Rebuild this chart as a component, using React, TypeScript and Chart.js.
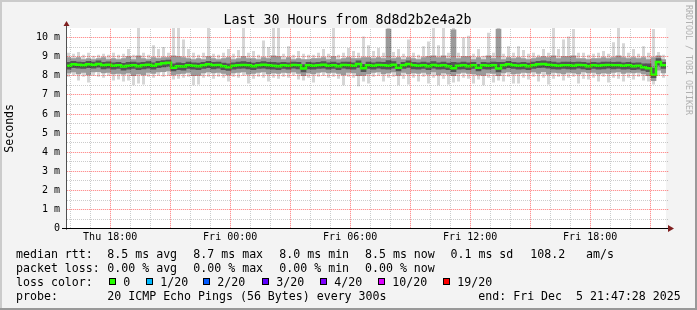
import React, { useEffect, useRef } from "react";
import { Chart, registerables } from "chart.js";

Chart.register(...registerables);

// Time axis: hours since the start of the graph (Thu 15:47:28), 30 hours, 15-minute columns
const START_HOUR = 15 + 47 / 60 + 28 / 3600;
const SPAN_HOURS = 30;
const STEP_HOURS = 0.25;
const Y_MAX = 10.5;

// RTT distribution per column (milliseconds)
const maxRtt = [
  9.20, 9.15, 9.25, 9.10, 9.20, 9.05, 9.10, 9.15, 9.10, 9.20,
  9.10, 9.15, 9.40, 9.10, 10.50, 9.20, 9.10, 9.60, 9.40, 9.50,
  9.20, 10.50, 10.50, 9.90, 9.40, 9.20, 9.10, 9.20, 10.50, 9.15,
  9.10, 9.20, 9.40, 9.15, 9.35, 10.50, 9.20, 9.30, 9.10, 9.85,
  9.50, 10.50, 10.50, 9.15, 9.55, 9.10, 9.30, 9.15, 9.10, 9.10,
  9.20, 9.40, 9.15, 10.50, 9.10, 9.20, 9.45, 9.30, 9.20, 10.05,
  9.60, 9.30, 9.45, 9.20, 10.50, 9.25, 9.40, 9.15, 9.90, 9.20,
  9.10, 9.55, 9.80, 10.50, 9.60, 10.50, 9.20, 10.50, 9.20, 10.00,
  10.10, 9.15, 9.40, 9.05, 10.25, 9.20, 10.50, 9.15, 9.55, 9.20,
  9.55, 9.35, 9.15, 9.20, 9.10, 9.40, 9.20, 10.50, 9.40, 9.90,
  10.05, 10.45, 9.20, 9.20, 9.10, 9.15, 9.20, 9.30, 9.15, 9.75,
  10.50, 9.70, 9.20, 9.40, 9.15, 9.55, 9.20, 10.45, 9.25, 9.10,
];

const p90Rtt = [
  8.95, 8.90, 8.95, 8.85, 8.90, 8.85, 8.90, 8.95, 8.85, 8.90,
  8.85, 8.90, 9.00, 8.85, 9.05, 8.90, 8.85, 8.95, 8.90, 8.95,
  8.95, 9.05, 9.00, 8.95, 8.90, 8.85, 8.90, 8.85, 9.00, 8.90,
  8.85, 8.90, 8.95, 8.85, 8.90, 9.00, 8.90, 8.90, 8.85, 8.95,
  8.90, 9.05, 9.00, 8.85, 8.95, 8.85, 8.90, 8.85, 8.85, 8.90,
  8.90, 8.95, 8.85, 9.00, 8.85, 8.90, 8.95, 8.90, 8.90, 8.95,
  8.95, 8.90, 8.95, 8.90, 10.45, 8.90, 8.95, 8.85, 8.95, 8.90,
  8.85, 8.95, 9.00, 9.05, 8.95, 9.05, 8.90, 10.40, 8.90, 9.00,
  9.00, 8.85, 8.95, 8.85, 9.05, 8.90, 10.45, 8.85, 8.95, 8.90,
  8.95, 8.90, 8.85, 8.90, 8.95, 9.00, 8.95, 9.05, 8.90, 9.00,
  9.00, 9.05, 8.90, 8.90, 8.85, 8.90, 8.90, 8.95, 8.90, 8.95,
  9.05, 8.95, 8.90, 8.95, 8.90, 8.95, 8.85, 8.95, 9.05, 8.85,
];

const q3Rtt = [
  8.70, 8.75, 8.72, 8.70, 8.75, 8.72, 8.78, 8.70, 8.73, 8.68,
  8.70, 8.65, 8.70, 8.72, 8.68, 8.70, 8.74, 8.68, 8.75, 8.80,
  8.82, 8.62, 8.68, 8.65, 8.72, 8.68, 8.66, 8.70, 8.75, 8.70,
  8.72, 8.66, 8.62, 8.68, 8.72, 8.74, 8.70, 8.66, 8.70, 8.74,
  8.70, 8.70, 8.68, 8.70, 8.68, 8.72, 8.70, 8.58, 8.70, 8.68,
  8.70, 8.74, 8.68, 8.72, 8.66, 8.72, 8.72, 8.68, 8.78, 8.60,
  8.72, 8.68, 8.72, 8.70, 8.80, 8.74, 8.60, 8.70, 8.78, 8.70,
  8.68, 8.72, 8.68, 8.74, 8.68, 8.72, 8.66, 8.70, 8.68, 8.72,
  8.68, 8.70, 8.60, 8.70, 8.68, 8.72, 8.70, 8.70, 8.76, 8.70,
  8.68, 8.70, 8.66, 8.72, 8.76, 8.78, 8.74, 8.72, 8.68, 8.72,
  8.72, 8.70, 8.72, 8.70, 8.66, 8.70, 8.68, 8.72, 8.72, 8.70,
  8.72, 8.68, 8.70, 8.66, 8.68, 8.62, 8.62, 8.40, 8.90, 8.70,
];

const medianRtt = [
  8.52, 8.60, 8.58, 8.55, 8.60, 8.57, 8.62, 8.55, 8.58, 8.52,
  8.55, 8.48, 8.52, 8.55, 8.50, 8.55, 8.58, 8.52, 8.60, 8.65,
  8.68, 8.42, 8.50, 8.48, 8.55, 8.52, 8.50, 8.55, 8.60, 8.55,
  8.57, 8.50, 8.45, 8.52, 8.55, 8.57, 8.55, 8.50, 8.55, 8.58,
  8.55, 8.52, 8.50, 8.55, 8.52, 8.57, 8.55, 8.38, 8.55, 8.52,
  8.55, 8.58, 8.52, 8.55, 8.50, 8.57, 8.55, 8.52, 8.62, 8.40,
  8.55, 8.52, 8.57, 8.55, 8.52, 8.58, 8.42, 8.55, 8.62, 8.55,
  8.52, 8.55, 8.50, 8.57, 8.52, 8.55, 8.50, 8.40, 8.52, 8.55,
  8.50, 8.55, 8.42, 8.55, 8.52, 8.55, 8.38, 8.55, 8.60, 8.55,
  8.52, 8.55, 8.50, 8.55, 8.60, 8.62, 8.58, 8.55, 8.52, 8.55,
  8.55, 8.52, 8.57, 8.55, 8.50, 8.55, 8.52, 8.55, 8.57, 8.55,
  8.55, 8.52, 8.55, 8.50, 8.52, 8.45, 8.40, 8.05, 8.72, 8.55,
];

const q1Rtt = [
  8.35, 8.42, 8.40, 8.38, 8.42, 8.40, 8.45, 8.36, 8.40, 8.34,
  8.38, 8.30, 8.35, 8.38, 8.32, 8.36, 8.40, 8.34, 8.42, 8.46,
  8.50, 8.25, 8.32, 8.30, 8.38, 8.34, 8.32, 8.38, 8.42, 8.36,
  8.40, 8.32, 8.28, 8.34, 8.38, 8.40, 8.36, 8.32, 8.38, 8.40,
  8.36, 8.34, 8.32, 8.38, 8.34, 8.40, 8.36, 8.20, 8.36, 8.34,
  8.38, 8.40, 8.34, 8.38, 8.32, 8.40, 8.36, 8.34, 8.44, 8.22,
  8.38, 8.34, 8.40, 8.36, 8.34, 8.40, 8.25, 8.38, 8.44, 8.36,
  8.34, 8.38, 8.32, 8.40, 8.34, 8.36, 8.32, 8.22, 8.34, 8.36,
  8.32, 8.38, 8.25, 8.36, 8.34, 8.38, 8.20, 8.36, 8.42, 8.38,
  8.34, 8.36, 8.32, 8.38, 8.42, 8.44, 8.40, 8.36, 8.34, 8.38,
  8.36, 8.34, 8.40, 8.36, 8.32, 8.38, 8.34, 8.36, 8.40, 8.36,
  8.38, 8.34, 8.36, 8.32, 8.34, 8.28, 8.22, 7.90, 8.55, 8.38,
];

const p10Rtt = [
  8.15, 8.20, 8.10, 8.18, 8.05, 8.20, 8.22, 8.15, 8.18, 8.10,
  8.12, 8.08, 8.15, 8.00, 8.10, 8.05, 8.18, 8.12, 8.20, 8.22,
  8.25, 8.05, 8.10, 8.12, 8.18, 8.00, 8.02, 8.15, 8.20, 8.15,
  8.18, 8.12, 8.05, 8.15, 8.18, 8.20, 8.08, 8.12, 8.18, 8.20,
  8.10, 8.15, 8.12, 8.18, 8.15, 8.20, 8.12, 8.00, 8.15, 8.10,
  8.18, 8.20, 8.15, 8.18, 8.12, 8.05, 8.18, 8.15, 8.00, 8.02,
  8.10, 8.18, 8.20, 8.10, 8.15, 8.20, 8.02, 8.18, 8.10, 8.15,
  8.12, 8.18, 8.08, 8.20, 8.05, 8.15, 8.08, 8.00, 8.12, 8.18,
  8.12, 8.10, 8.05, 8.02, 8.15, 8.12, 8.00, 8.15, 8.20, 8.10,
  8.12, 8.18, 8.15, 8.20, 8.12, 8.22, 8.08, 8.18, 8.15, 8.10,
  8.18, 8.15, 8.10, 8.20, 8.15, 8.18, 8.10, 8.15, 8.12, 8.18,
  8.20, 8.12, 8.18, 8.15, 8.18, 8.10, 8.00, 7.75, 8.30, 8.15,
];

const minRtt = [
  7.95, 8.00, 7.75, 7.95, 7.65, 8.00, 7.95, 7.90, 8.00, 7.75,
  7.80, 7.70, 7.75, 7.50, 7.60, 7.55, 7.95, 7.90, 8.00, 7.95,
  8.00, 7.80, 7.85, 7.90, 7.95, 7.50, 7.55, 7.90, 7.95, 7.85,
  7.95, 7.90, 7.70, 7.95, 7.90, 8.00, 7.60, 7.85, 7.95, 7.90,
  7.70, 7.90, 7.85, 7.95, 7.90, 8.00, 7.80, 7.75, 7.90, 7.65,
  7.95, 8.00, 7.90, 7.95, 7.85, 7.50, 7.95, 7.90, 7.45, 7.70,
  7.60, 7.95, 8.00, 7.70, 7.90, 7.95, 7.50, 7.85, 7.55, 7.90,
  7.70, 7.95, 7.60, 7.90, 7.50, 7.85, 7.55, 7.65, 7.70, 7.90,
  7.85, 7.60, 7.80, 7.50, 7.90, 7.65, 7.75, 7.70, 7.95, 7.60,
  7.60, 7.90, 7.80, 7.95, 7.70, 7.90, 7.55, 7.85, 7.95, 7.75,
  7.90, 7.95, 7.60, 7.85, 7.80, 7.90, 7.70, 7.95, 7.65, 7.90,
  7.85, 7.70, 7.90, 7.80, 7.95, 7.75, 7.70, 7.55, 8.00, 7.90,
];

// Axis ticks
const gridHours = [
  16, 17, 18, 19, 20, 21, 22, 23, 24, 25, 26, 27, 28, 29, 30,
  31, 32, 33, 34, 35, 36, 37, 38, 39, 40, 41, 42, 43, 44, 45,
];
const xLabelHours = [18, 24, 30, 36, 42];
const xLabels = ["Thu 18:00", "Fri 00:00", "Fri 06:00", "Fri 12:00", "Fri 18:00"];
const yGrid = [0, 0.5, 1, 1.5, 2, 2.5, 3, 3.5, 4, 4.5, 5, 5.5, 6, 6.5, 7, 7.5, 8, 8.5, 9, 9.5, 10];
const yLabelValues = [0, 1, 2, 3, 4, 5, 6, 7, 8, 9, 10];
const yLabels = ["0", "1 m", "2 m", "3 m", "4 m", "5 m", "6 m", "7 m", "8 m", "9 m", "10 m"];

// Texts
const titleText = "Last 30 Hours from 8d8d2b2e4a2b";
const yTitle = "Seconds";
const watermark = "RRDTOOL / TOBI OETIKER";
const rttStats = ["8.5 ms avg", "8.7 ms max", "8.0 ms min", "8.5 ms now", "0.1 ms sd", "108.2", "am/s"];
const lossStats = ["0.00 % avg", "0.00 % max", "0.00 % min", "0.00 % now"];
const lossLabels = ["0", "1/20", "2/20", "3/20", "4/20", "10/20", "19/20"];
const lossColors = ["#26ff00", "#00b8ff", "#0059ff", "#5e00ff", "#7e00ff", "#dd00ff", "#ff0000"];
const probeText = "20 ICMP Echo Pings (56 Bytes) every 300s";
const endText = "end: Fri Dec  5 21:47:28 2025";

const MONO = '"DejaVu Sans Mono", monospace';

export default function App() {
  const ref = useRef<HTMLCanvasElement>(null);

  useEffect(() => {
    const canvas = ref.current;
    if (!canvas) return;

    const colX = maxRtt.map((_, i) => i * STEP_HOURS + STEP_HOURS / 2);
    const band = (lo: number[], hi: number[]) => lo.map((l, i) => ({ x: colX[i], y: [l, hi[i]] }));
    const medianPts = medianRtt.map((v, i) => ({ x: i * STEP_HOURS, y: v }));
    medianPts.push({ x: SPAN_HOURS, y: medianRtt[medianRtt.length - 1] });

    const barCommon = {
      type: "bar" as const,
      grouped: false,
      barPercentage: 1,
      categoryPercentage: 1,
      borderWidth: 0,
      borderSkipped: false,
    };

    const isMajorHour = (h: number) => h % 3 === 0;
    const xLabelFor = (v: number) => {
      const idx = xLabelHours.findIndex((h) => Math.abs(h - START_HOUR - v) < 1e-6);
      return idx >= 0 ? xLabels[idx] : "";
    };
    const yLabelFor = (v: number) => {
      const idx = yLabelValues.findIndex((h) => Math.abs(h - v) < 1e-6);
      return idx >= 0 ? yLabels[idx] : "";
    };

    const MAJOR_DOT = "rgba(255,0,0,0.36)";
    const MAJOR_GAP = "rgba(255,0,0,0.1)";
    const MINOR = "rgba(0,0,0,0.2)";

    const decor = {
      id: "rrdDecor",
      beforeDraw(chart: any) {
        const { ctx, chartArea: a } = chart;
        ctx.save();
        ctx.fillStyle = "#f3f3f3";
        ctx.fillRect(0, 0, 697, 310);
        // 3D frame
        ctx.fillStyle = "#cbcbcb";
        ctx.fillRect(0, 0, 697, 2);
        ctx.fillRect(0, 0, 2, 310);
        ctx.fillStyle = "#999999";
        ctx.fillRect(0, 308, 697, 2);
        ctx.fillRect(695, 0, 2, 310);
        ctx.fillStyle = "#ffffff";
        ctx.fillRect(a.left, a.top, a.right - a.left, a.bottom - a.top);
        ctx.restore();
      },
      afterDatasetsDraw(chart: any) {
        // dotted grid drawn over the data, rrdtool style
        const { ctx, chartArea: a, scales } = chart;
        const xs = scales.x;
        const ys = scales.y;
        const L = Math.round(a.left);
        const R = Math.round(a.right);
        const T = Math.round(a.top);
        const B = Math.floor(a.bottom);
        ctx.save();
        const hRows = (major: boolean) =>
          yGrid
            .filter((v) => v !== 0 && (Math.abs(v % 1) < 1e-6) === major)
            .map((v) => Math.floor(ys.getPixelForValue(v)));
        const vCols = (major: boolean) =>
          gridHours
            .filter((h) => isMajorHour(h) === major)
            .map((h) => Math.floor(xs.getPixelForValue(h - START_HOUR)));

        // minor grid: gray dots
        ctx.fillStyle = MINOR;
        hRows(false).forEach((py) => {
          for (let x = L + 1; x <= R + 2; x += 2) ctx.fillRect(x, py, 1, 1);
        });
        vCols(false).forEach((px) => {
          for (let y = T + 1; y < B; y += 2) ctx.fillRect(px, y, 1, 1);
        });
        // major grid: faint red line with stronger red dots
        ctx.fillStyle = MAJOR_GAP;
        hRows(true).forEach((py) => ctx.fillRect(L + 1, py, R + 2 - L, 1));
        vCols(true).forEach((px) => ctx.fillRect(px, T, 1, B - T));
        ctx.fillStyle = MAJOR_DOT;
        hRows(true).forEach((py) => {
          for (let x = L + 1; x <= R + 2; x += 2) ctx.fillRect(x, py, 1, 1);
        });
        vCols(true).forEach((px) => {
          for (let y = T + 1; y < B; y += 2) ctx.fillRect(px, y, 1, 1);
        });
        ctx.restore();
      },
      afterDraw(chart: any) {
        const { ctx, chartArea: a } = chart;
        const x0 = Math.round(a.left) + 0.5;
        const yb = Math.floor(a.bottom) + 0.5;
        ctx.save();
        // axes
        ctx.lineWidth = 1;
        ctx.strokeStyle = "#505050";
        ctx.beginPath();
        ctx.moveTo(x0, a.bottom + 1);
        ctx.lineTo(x0, 24);
        ctx.stroke();
        ctx.strokeStyle = "#000000";
        ctx.beginPath();
        ctx.moveTo(62, yb);
        ctx.lineTo(670, yb);
        ctx.stroke();
        // arrows
        ctx.fillStyle = "#7f1f1f";
        ctx.beginPath();
        ctx.moveTo(x0 - 3, 26);
        ctx.lineTo(x0, 21);
        ctx.lineTo(x0 + 3, 26);
        ctx.closePath();
        ctx.fill();
        ctx.beginPath();
        ctx.moveTo(668, yb - 3.5);
        ctx.lineTo(674, yb);
        ctx.lineTo(668, yb + 3.5);
        ctx.closePath();
        ctx.fill();

        // title
        ctx.fillStyle = "#000000";
        ctx.textBaseline = "alphabetic";
        ctx.textAlign = "center";
        ctx.font = `13.3px ${MONO}`;
        ctx.fillText(titleText, 347.5, 24.2);

        // legend
        ctx.textAlign = "left";
        ctx.font = `11.6px ${MONO}`;
        const b1 = 258.3, b2 = 272.3, b3 = 286.3, b4 = 299.5;
        ctx.fillText("median rtt:", 16, b1);
        const rttX = [107.3, 193.3, 279.3, 365, 450.5, 530.3, 586];
        rttStats.forEach((t, i) => ctx.fillText(t, rttX[i], b1));
        ctx.fillText("packet loss:", 16, b2);
        const lossX = [107.3, 193.3, 279.3, 365];
        lossStats.forEach((t, i) => ctx.fillText(t, lossX[i], b2));
        ctx.fillText("loss color:", 16, b3);
        const boxX = [109, 146, 203, 262, 320, 378, 443];
        lossLabels.forEach((t, i) => {
          ctx.fillStyle = lossColors[i];
          ctx.fillRect(boxX[i], 278, 7, 7);
          ctx.strokeStyle = "#000000";
          ctx.strokeRect(boxX[i] + 0.5, 278.5, 6, 6);
          ctx.fillStyle = "#000000";
          ctx.fillText(t, boxX[i] + 14.3, b3);
        });
        ctx.fillText("probe:", 16, b4);
        ctx.fillText(probeText, 107.3, b4);
        ctx.fillText(endText, 478.3, b4);

        // watermark
        ctx.translate(688, 60);
        ctx.rotate(Math.PI / 2);
        ctx.textAlign = "center";
        ctx.textBaseline = "middle";
        ctx.font = `8.3px ${MONO}`;
        ctx.fillStyle = "#b0b0b0";
        ctx.fillText(watermark, 0, 0);
        ctx.restore();
      },
    };

    const chart = new Chart(canvas, {
      type: "bar",
      data: {
        datasets: [
          {
            type: "line",
            data: medianPts,
            borderColor: "#26ff00",
            borderWidth: 2.5,
            pointRadius: 0,
            stepped: true,
            fill: false,
            order: 0,
          } as any,
          { ...barCommon, data: band(q1Rtt, q3Rtt), backgroundColor: "#555555", order: 1 } as any,
          { ...barCommon, data: band(p10Rtt, p90Rtt), backgroundColor: "#9a9a9a", order: 2 } as any,
          { ...barCommon, data: band(minRtt, maxRtt), backgroundColor: "#d6d6d6", barPercentage: 0.6, order: 3 } as any,
        ],
      },
      options: {
        responsive: false,
        animation: false,
        devicePixelRatio: 1,
        layout: { padding: { top: 28, right: 31, left: 0, bottom: 0 } },
        plugins: {
          legend: { display: false },
          tooltip: { enabled: false },
          title: { display: false },
        },
        scales: {
          x: {
            type: "linear",
            min: 0,
            max: SPAN_HOURS,
            offset: false,
            bounds: "data",
            grid: { display: false, drawTicks: false, offset: false },
            border: { display: false },
            ticks: {
              autoSkip: false,
              maxRotation: 0,
              minRotation: 0,
              padding: 2.5,
              color: "#000000",
              font: { family: MONO, size: 10 },
              callback: (v: any) => xLabelFor(Number(v)),
            },
            afterBuildTicks: (s: any) => {
              s.ticks = gridHours.map((h) => ({ value: h - START_HOUR }));
            },
            afterFit: (s: any) => {
              s.height = 81.3;
            },
          },
          y: {
            type: "linear",
            min: 0,
            max: Y_MAX,
            bounds: "data",
            grid: { display: false, drawTicks: false },
            border: { display: false },
            ticks: {
              autoSkip: false,
              padding: 6,
              color: "#000000",
              font: { family: MONO, size: 10 },
              callback: (v: any) => yLabelFor(Number(v)),
            },
            title: {
              display: true,
              text: yTitle,
              color: "#000000",
              font: { family: MONO, size: 11.6 },
              padding: { top: 3.5, bottom: 0 },
            },
            afterBuildTicks: (s: any) => {
              s.ticks = yGrid.map((v) => ({ value: v }));
            },
            afterFit: (s: any) => {
              s.width = 66;
            },
          },
        },
      } as any,
      plugins: [decor],
    });

    return () => chart.destroy();
  }, []);

  return (
    <div style={{ position: "absolute", left: 0, top: 0, width: 697, height: 310 }}>
      <canvas ref={ref} width={697} height={310} style={{ display: "block", width: 697, height: 310 }} />
    </div>
  );
}
